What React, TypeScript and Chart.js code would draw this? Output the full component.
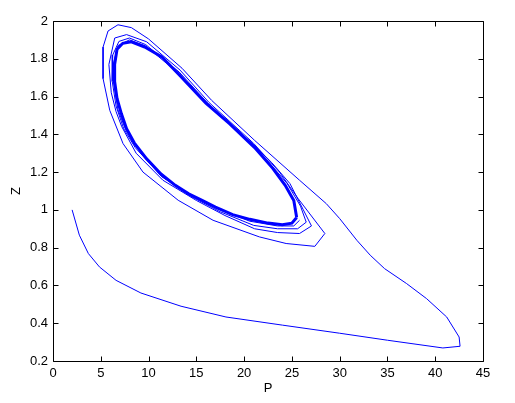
import React, { useEffect, useRef } from 'react';
import { Chart, registerables } from 'chart.js';

Chart.register(...registerables);

// Transient trajectory (P, Z), from the starting point to the cycle
const transientP = [
  2.0, 2.76, 3.7, 4.86, 6.6, 9.2, 13.4, 18.1, 24.0, 30.0, 35.0, 40.8, 42.6, 42.5, 41.2, 39.1, 37.0, 34.7, 33.2, 31.8,
  30.0, 28.6, 25.8, 21.1, 16.6, 13.5, 10.0, 8.2, 6.8, 5.76, 5.24, 5.24, 5.94, 7.33, 9.42, 13.1, 16.75, 21.6, 24.4, 27.4,
  28.45,
  25.65, 23.7, 21.0, 16.3, 13.3, 9.8, 7.7, 6.46, 5.85, 6.1, 6.6, 7.2, 8.7, 11.5, 15.0, 18.0, 21.1, 23.5, 25.8, 27.05,
  26.2, 24.8, 22.9, 21.0, 16.2, 13.2, 9.7, 8.0, 6.9, 6.25, 6.2, 6.6, 7.4, 8.6, 11.4, 14.5, 17.5, 21.0, 23.5, 25.6, 26.5,
  25.9, 24.5, 21.1, 16.1, 13.2, 9.7, 8.0, 6.8, 6.35, 6.35, 6.8, 7.6, 8.6, 11.3, 14.3, 17.5, 20.6, 23.5, 25.2, 25.8,
];
const transientZ = [
  1.0, 0.866, 0.769, 0.698, 0.627, 0.56, 0.49, 0.433, 0.39, 0.347, 0.31, 0.269, 0.278, 0.327, 0.433, 0.53, 0.61, 0.689, 0.76, 0.839,
  0.954, 1.033, 1.157, 1.368, 1.58, 1.75, 1.905, 1.965, 1.98, 1.947, 1.862, 1.695, 1.527, 1.351, 1.2, 1.051, 0.945, 0.857, 0.822, 0.807,
  0.875,
  1.06, 1.2, 1.352, 1.57, 1.74, 1.89, 1.928, 1.91, 1.77, 1.62, 1.52, 1.44, 1.3, 1.157, 1.05, 0.97, 0.9, 0.88, 0.875, 0.915,
  1.0, 1.139, 1.25, 1.345, 1.565, 1.73, 1.875, 1.91, 1.892, 1.82, 1.68, 1.55, 1.43, 1.33, 1.175, 1.07, 0.99, 0.918, 0.9, 0.9, 0.935,
  1.02, 1.14, 1.34, 1.565, 1.72, 1.868, 1.9, 1.87, 1.78, 1.67, 1.53, 1.425, 1.34, 1.18, 1.08, 1.0, 0.94, 0.915, 0.915, 0.945,
];

// Limit cycle (P, Z)
const cycleP = [
  25.5, 25.2, 24.3, 23.0, 21.1, 18.5, 16.0, 13.3, 11.4, 9.6, 8.2, 7.3, 6.7, 6.45, 6.45, 6.7, 7.15, 7.7, 8.5, 9.8,
  11.3, 12.8, 14.2, 15.6, 17.0, 18.8, 20.6, 22.5, 24.0, 25.0, 25.5,
];
const cycleZ = [
  0.96, 1.05, 1.13, 1.22, 1.33, 1.455, 1.565, 1.71, 1.81, 1.862, 1.89, 1.882, 1.85, 1.77, 1.68, 1.59, 1.51, 1.43, 1.355, 1.27,
  1.19, 1.13, 1.085, 1.05, 1.015, 0.975, 0.95, 0.93, 0.922, 0.93, 0.96,
];

const xTickValues = [0, 5, 10, 15, 20, 25, 30, 35, 40, 45];
const xTickLabels = ['0', '5', '10', '15', '20', '25', '30', '35', '40', '45'];
const yTickValues = [0.2, 0.4, 0.6, 0.8, 1.0, 1.2, 1.4, 1.6, 1.8, 2.0];
const yTickLabels = ['0.2', '0.4', '0.6', '0.8', '1', '1.2', '1.4', '1.6', '1.8', '2'];

const FONT = 'Liberation Sans, Arial, Helvetica, sans-serif';

const boxPlugin = {
  id: 'matlabBox',
  afterDatasetsDraw(chart: any) {
    const { ctx, chartArea, scales } = chart;
    const left = Math.round(chartArea.left) + 0.5;
    const right = Math.round(chartArea.right) + 0.5;
    const top = Math.round(chartArea.top) + 0.5;
    const bottom = Math.round(chartArea.bottom) + 0.5;
    const tl = 5;
    ctx.save();
    ctx.strokeStyle = '#000';
    ctx.lineWidth = 1;
    ctx.beginPath();
    ctx.rect(left, top, right - left, bottom - top);
    scales.x.ticks.forEach((t: any) => {
      const px = Math.round(scales.x.getPixelForValue(t.value)) + 0.5;
      ctx.moveTo(px, bottom);
      ctx.lineTo(px, bottom - tl);
      ctx.moveTo(px, top);
      ctx.lineTo(px, top + tl);
    });
    scales.y.ticks.forEach((t: any) => {
      const py = Math.round(scales.y.getPixelForValue(t.value)) + 0.5;
      ctx.moveTo(left, py);
      ctx.lineTo(left + tl, py);
      ctx.moveTo(right, py);
      ctx.lineTo(right - tl, py);
    });
    ctx.stroke();
    ctx.restore();
  },
};

export default function App() {
  const ref = useRef<HTMLCanvasElement | null>(null);

  useEffect(() => {
    if (!ref.current) return;
    const transient = transientP.map((p, i) => ({ x: p, y: transientZ[i] }));
    const cycle = cycleP.map((p, i) => ({ x: p, y: cycleZ[i] }));
    const chart = new Chart(ref.current, {
      type: 'scatter',
      data: {
        datasets: [
          {
            data: transient,
            showLine: true,
            borderColor: '#0000ff',
            backgroundColor: '#0000ff',
            borderWidth: 1,
            pointRadius: 0,
            tension: 0,
          },
          {
            data: cycle,
            showLine: true,
            borderColor: '#0000ff',
            backgroundColor: '#0000ff',
            borderWidth: 3,
            pointRadius: 0,
            tension: 0,
          },
        ],
      },
      options: {
        animation: false,
        responsive: false,
        layout: { padding: { top: 21, right: 32, bottom: 0, left: 0 } },
        plugins: { legend: { display: false }, tooltip: { enabled: false } },
        scales: {
          x: {
            type: 'linear',
            min: 0,
            max: 45,
            afterBuildTicks: (s: any) => {
              s.ticks = xTickValues.map((v) => ({ value: v }));
            },
            afterFit: (s: any) => {
              s.height = 42;
            },
            ticks: {
              autoSkip: false,
              maxRotation: 0,
              color: '#000',
              padding: 5,
              font: { family: FONT, size: 13 },
              callback: (v: any) => {
                const i = xTickValues.indexOf(Number(v));
                return i >= 0 ? xTickLabels[i] : '';
              },
            },
            grid: { display: false, drawTicks: false },
            border: { display: false },
            title: {
              display: true,
              text: 'P',
              color: '#000',
              font: { family: FONT, size: 13 },
              padding: { top: 0, bottom: 7 },
            },
          },
          y: {
            type: 'linear',
            min: 0.2,
            max: 2,
            afterBuildTicks: (s: any) => {
              s.ticks = yTickValues.map((v) => ({ value: v }));
            },
            afterFit: (s: any) => {
              s.width = 53;
            },
            ticks: {
              autoSkip: false,
              color: '#000',
              padding: 5,
              font: { family: FONT, size: 13 },
              callback: (v: any) => {
                const i = yTickValues.findIndex((t) => Math.abs(t - Number(v)) < 1e-6);
                return i >= 0 ? yTickLabels[i] : '';
              },
            },
            grid: { display: false, drawTicks: false },
            border: { display: false },
            title: {
              display: true,
              text: 'Z',
              color: '#000',
              font: { family: FONT, size: 13 },
              padding: { top: 9, bottom: 0 },
            },
          },
        },
      },
      plugins: [boxPlugin],
    });
    return () => chart.destroy();
  }, []);

  return (
    <div style={{ position: 'absolute', left: 0, top: 0, width: 515, height: 403, background: '#fff' }}>
      <canvas ref={ref} width={515} height={403} style={{ display: 'block' }} />
    </div>
  );
}
